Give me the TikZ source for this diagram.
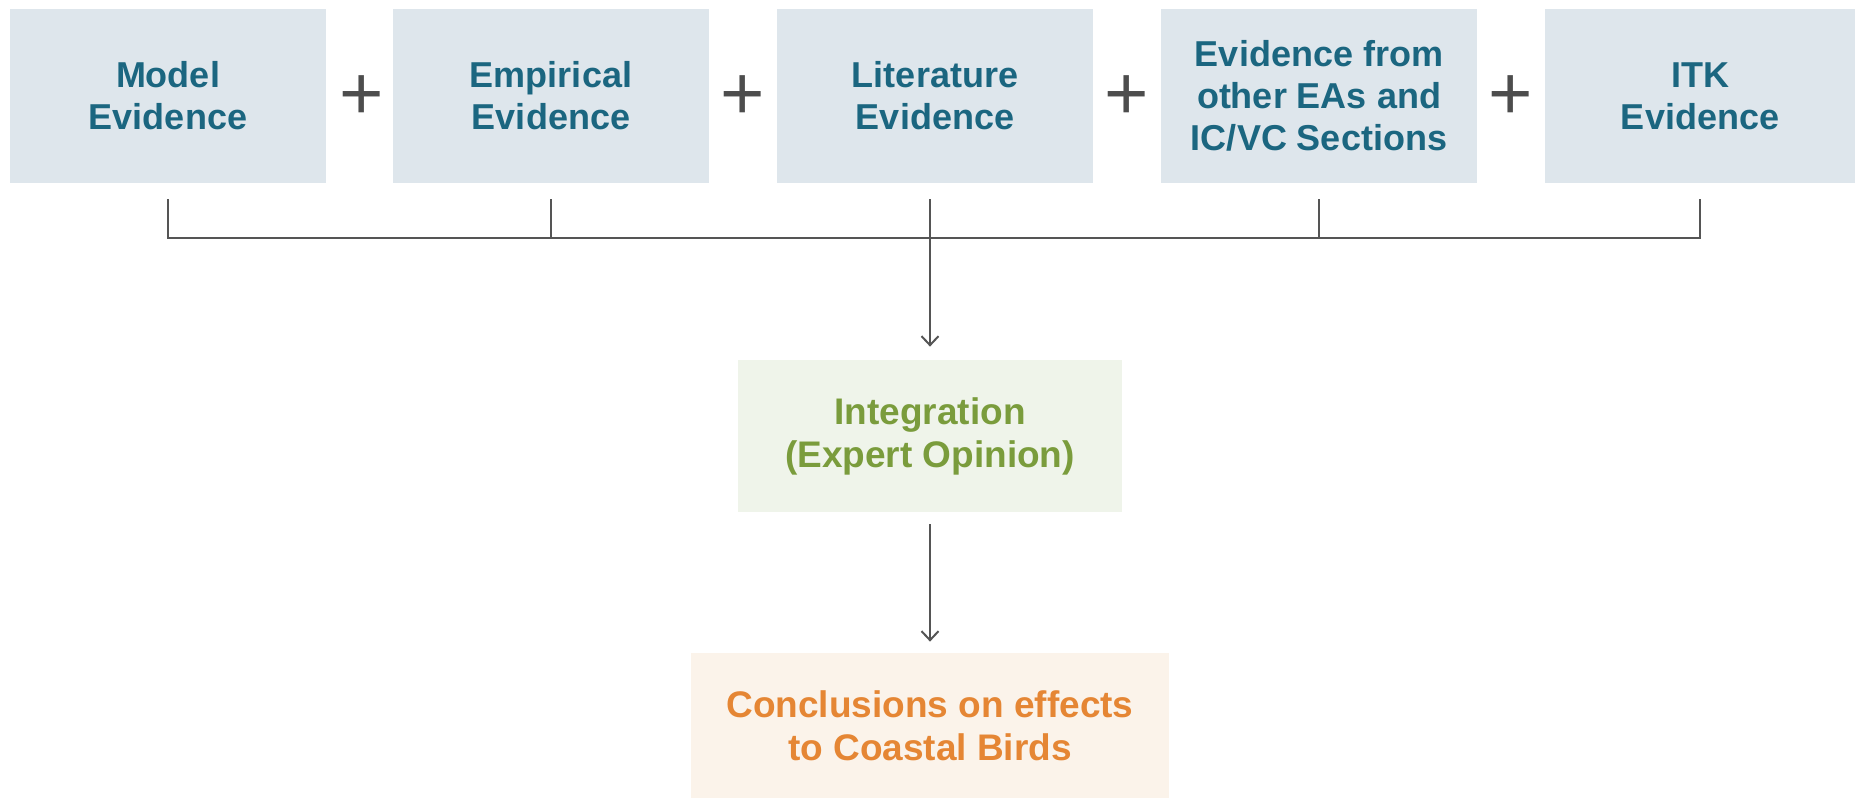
\documentclass[tikz,border=0pt]{standalone}
\usepackage{fontspec}
\setmainfont{Liberation Sans}
\usetikzlibrary{arrows.meta}

\definecolor{boxblue}{HTML}{DEE6EC}
\definecolor{textblue}{HTML}{1B6680}
\definecolor{boxgreen}{HTML}{EFF4EA}
\definecolor{textgreen}{HTML}{7A9C3C}
\definecolor{boxorange}{HTML}{FBF3EA}
\definecolor{textorange}{HTML}{E58634}
\definecolor{linegray}{HTML}{555555}
\definecolor{plusgray}{HTML}{4D4D4D}

\tikzset{
  evid/.style={shape=rectangle,fill=boxblue,text=textblue,minimum width=158pt,minimum height=87pt,
    align=center,font=\fontsize{18}{21}\selectfont\bfseries},
  plussign/.style={text=plusgray,inner sep=0pt,font=\fontsize{38}{38}\selectfont},
  link/.style={draw=linegray,line width=1pt},
  arr/.style={link,-{Straight Barb[length=4.5pt,width=8.5pt]}}
}

\begin{document}
\begin{tikzpicture}[x=0.5pt,y=-0.5pt]
      \useasboundingbox (0,0) rectangle (1855,799);
      % the five kinds of evidence
      \node[evid] (model) at (168,96) {Model\\Evidence};
      \node[evid] (emp) at (551,96) {Empirical\\Evidence};
      \node[evid] (lit) at (935,96) {Literature\\Evidence};
      \node[evid] (other) at (1319,96) {Evidence from\\other EAs and\\IC/VC Sections};
      \node[evid,minimum width=155pt] (itk) at (1700,96) {ITK\\Evidence};
      \node[plussign] (p1) at (362,98) {+};
      \node[plussign] (p2) at (743,98) {+};
      \node[plussign] (p3) at (1127,98) {+};
      \node[plussign] (p4) at (1511,98) {+};
      % integration and conclusions
      \node[shape=rectangle,fill=boxgreen,text=textgreen,minimum width=192pt,minimum height=76pt,
        align=center,font=\fontsize{18.5}{21.5}\selectfont\bfseries] (integ) at (930,436) {Integration\\(Expert Opinion)};
      \node[shape=rectangle,fill=boxorange,text=textorange,minimum width=239pt,minimum height=72.5pt,
        align=center,font=\fontsize{18.5}{21.5}\selectfont\bfseries] (concl) at (930,725.5) {Conclusions on effects\\to Coastal Birds};
      % bracket under the top row
      \draw[link] ([yshift=-8pt]model.south) -- ++(0,39) -| ([yshift=-8pt]itk.south);
      \draw[link] ([yshift=-8pt]emp.south) -- ++(0,39);
      \draw[link] ([yshift=-8pt]other.south) -- ++(0,39);
      \draw[arr] ([yshift=-8pt]integ.north |- lit.south) -- ([yshift=6.5pt]integ.north);
      \draw[arr] ([yshift=-6pt]integ.south) -- ([yshift=5.5pt]concl.north);
    \end{tikzpicture}
\end{document}
